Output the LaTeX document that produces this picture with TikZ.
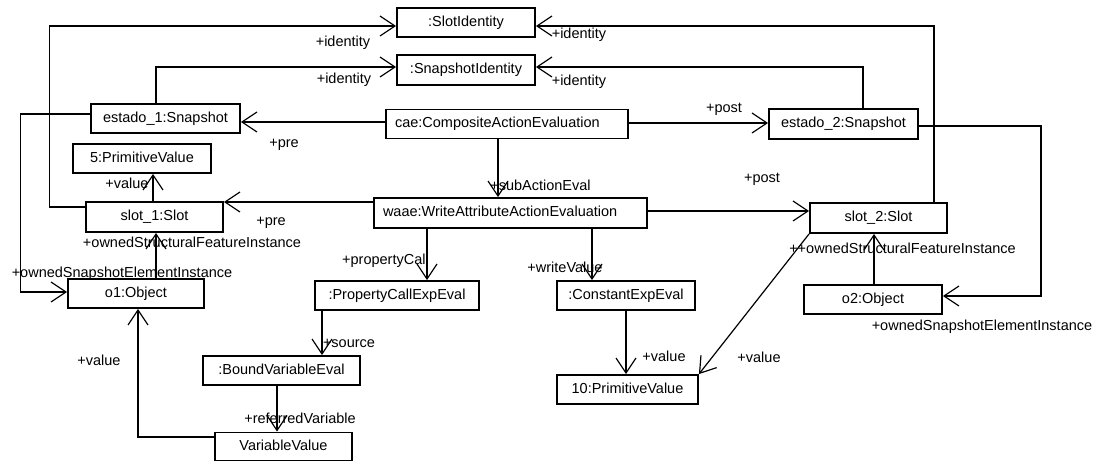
\documentclass[tikz,border=0pt]{standalone}
\usepackage{fontspec}
\setmainfont{Liberation Sans}
\usetikzlibrary{arrows.meta}
\begin{document}
\begin{tikzpicture}[x=1pt,y=-1pt,
  every node/.style={font=\fontsize{14.5}{17}\selectfont},
  box/.style={draw, line width=1.8pt, inner sep=0pt, align=center, text height=10.5pt, text depth=3pt},
  lbox/.style={draw, line width=1.8pt, inner ysep=0pt, inner xsep=9pt, align=left, text height=10.5pt, text depth=3pt},
  lbl/.style={inner sep=0pt, text height=11pt, text depth=2pt},
  conn/.style={line width=1.2pt, -{Straight Barb[length=15pt,width=20pt,line width=1.2pt]}}
]
\useasboundingbox (0,0) rectangle (1096,462);
% boxes
\node[box, minimum width=138pt, minimum height=29pt] (slotid) at (466,22.5) {:SlotIdentity};
\node[box, minimum width=138pt, minimum height=30pt] (snapid) at (466,70) {:SnapshotIdentity};
\node[box, minimum width=149pt, minimum height=29pt] (est1) at (165.5,118.5) {estado\_1:Snapshot};
\node[lbox, text width=224pt, minimum height=29pt] (cae) at (507,124) {cae:CompositeActionEvaluation};
\node[box, minimum width=149pt, minimum height=30pt] (est2) at (843.5,124) {estado\_2:Snapshot};
\node[box, minimum width=138pt, minimum height=29pt] (pv5) at (142,158.5) {5:PrimitiveValue};
\node[box, minimum width=137pt, minimum height=30pt] (slot1) at (154.5,217) {slot\_1:Slot};
\node[lbox, text width=255pt, minimum height=30pt] (waae) at (510.5,213) {waae:WriteAttributeActionEvaluation};
\node[box, minimum width=137pt, minimum height=30pt] (slot2) at (878.5,218) {slot\_2:Slot};
\node[box, minimum width=136pt, minimum height=29pt] (o1) at (136,293.5) {o1:Object};
\node[box, minimum width=164pt, minimum height=29pt] (pcee) at (397,295.5) {:PropertyCallExpEval};
\node[box, minimum width=138pt, minimum height=29pt] (cee) at (626,295.5) {:ConstantExpEval};
\node[box, minimum width=138pt, minimum height=29pt] (o2) at (873,299.5) {o2:Object};
\node[box, minimum width=157pt, minimum height=29pt] (bve) at (281.5,370.5) {:BoundVariableEval};
\node[box, minimum width=141pt, minimum height=29pt] (pv10) at (627.5,389.5) {10:PrimitiveValue};
\node[box, minimum width=137pt, minimum height=28pt] (vv) at (283.5,446.5) {VariableValue};
% connectors
\draw[conn] ([yshift=10pt]slot1.west) -- ++(-36,0) |- ([yshift=-3.5pt]slotid.west);
\draw[conn] ([xshift=55.5pt]slot2.north) |- ([yshift=-3.5pt]slotid.east);
\draw[conn] ([xshift=-9.5pt]est1.north) |- ([yshift=3pt]snapid.west);
\draw[conn] ([xshift=19.5pt]est2.north) |- ([yshift=3pt]snapid.east);
\draw[conn] ([yshift=2pt]cae.west) -- ([yshift=2pt]cae.west -| est1.east);
\draw[conn] ([yshift=1pt]cae.east) -- ([yshift=1pt]cae.east -| est2.west);
\draw[conn] ([xshift=-9pt]cae.south) -- ([xshift=-9pt]cae.south |- waae.north);
\draw[conn] ([yshift=11pt]waae.west) -- ([yshift=11pt]waae.west -| slot1.east);
\draw[conn] ([yshift=2pt]waae.east) -- ([yshift=2pt]waae.east -| slot2.west);
\draw[conn] ([xshift=-1.5pt]slot1.north) -- ([xshift=-1.5pt]slot1.north |- pv5.south);
\draw[conn] ([xshift=20pt]o1.north) -- ([xshift=20pt]o1.north |- slot1.south);
\draw[conn] ([yshift=4.5pt]est1.west) -- ++(-70,0) |- ([yshift=1.5pt]o1.west);
\draw[conn] ([yshift=9.5pt]vv.west) -| ([xshift=2pt]o1.south);
\draw[conn] ([xshift=-4.5pt]bve.south) -- ([xshift=-4.5pt]bve.south |- vv.north);
\draw[conn] ([xshift=-75pt]pcee.south) -- ([xshift=-75pt]pcee.south |- bve.north);
\draw[conn] ([xshift=-83.5pt]waae.south) -- ([xshift=-83.5pt]waae.south |- pcee.north);
\draw[conn] ([xshift=81.5pt]waae.south) -- ([xshift=81.5pt]waae.south |- cee.north);
\draw[conn] (cee.south) -- (cee.south |- pv10.north);
\draw[conn] (slot2.south west) -- (pv10.north east);
\draw[conn] ([xshift=1pt]o2.north) -- ([xshift=1pt]o2.north |- slot2.south);
\draw[conn] ([yshift=-2pt]est2.east) -- ++(122,0) |- ([yshift=3.5pt]o2.east);
% labels
\node[lbl] (l1) at (343,42) {+identity};
\node[lbl] (l2) at (344,79) {+identity};
\node[lbl] (l3) at (579,34) {+identity};
\node[lbl] (l4) at (579,81) {+identity};
\node[lbl] (l5) at (284,143) {+pre};
\node[lbl] (l6) at (724,108) {+post};
\node[lbl] (l7) at (540.5,186) {+subActionEval};
\node[lbl] (l8) at (271,221) {+pre};
\node[lbl] (l9) at (762,178) {+post};
\node[lbl] (l10) at (127,184) {+value};
\node[lbl] (l11) at (192,243) {+ownedStructuralFeatureInstance};
\node[lbl] (l12) at (122,273) {+ownedSnapshotElementInstance};
\node[lbl] (l13) at (99,361) {+value};
\node[lbl] (l14) at (300,419) {+referredVariable};
\node[lbl] (l15) at (349,343) {+source};
\node[lbl] (l16) at (385.5,260) {+propertyCall};
\node[lbl] (l17) at (565,268) {+writeValue};
\node[lbl] (l18) at (664,357) {+value};
\node[lbl] (l19) at (759,358) {+value};
\node[lbl] (l20) at (902.5,249) {++ownedStructuralFeatureInstance};
\node[lbl] (l21) at (982,326) {+ownedSnapshotElementInstance};
\end{tikzpicture}
\end{document}
